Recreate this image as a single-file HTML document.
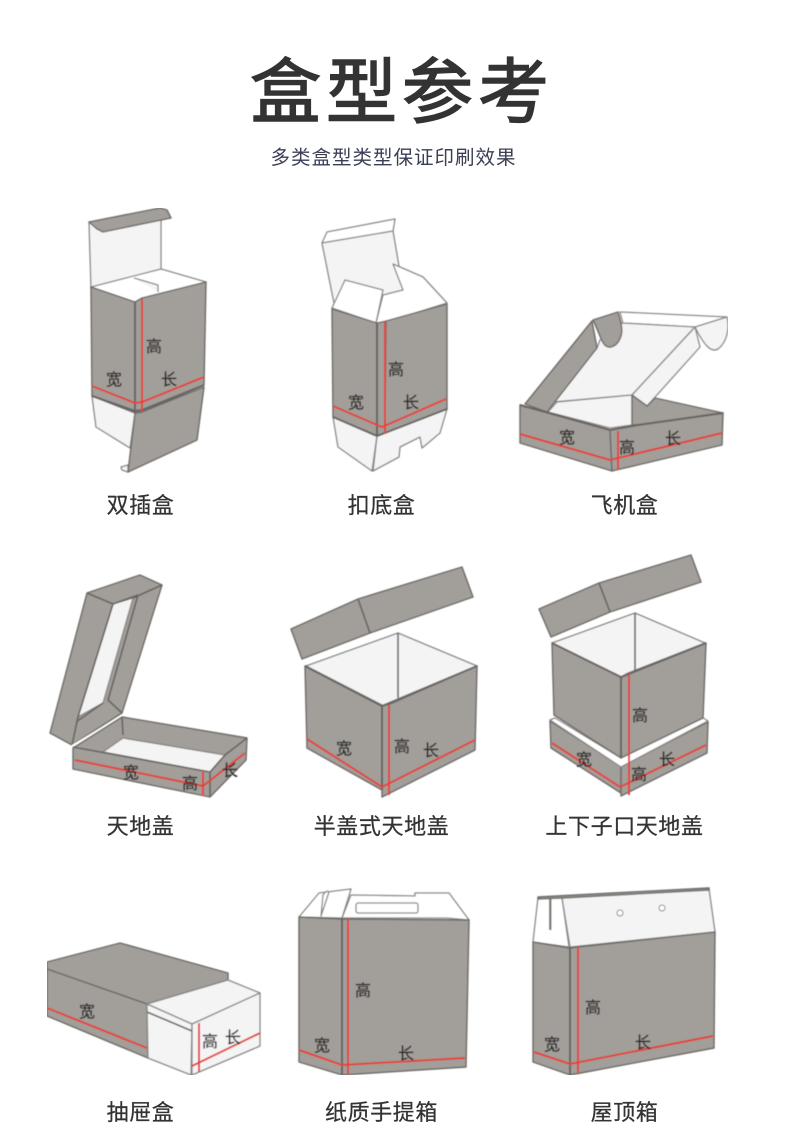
<!DOCTYPE html>
<html lang="zh">
<head>
<meta charset="utf-8">
<title>盒型参考</title>
<style>
html,body{margin:0;padding:0;background:#fff}
svg{display:block;width:790px;height:1145px}
text{font-family:"Liberation Sans","Noto Sans CJK SC",sans-serif;text-anchor:middle}
.g{fill:#a29e99;stroke:#6d6b68;stroke-width:1.4;stroke-linejoin:round}
.w{fill:#f4f4f4;stroke:#858585;stroke-width:1.3;stroke-linejoin:round}
.p{fill:#fff;stroke:#858585;stroke-width:1.3;stroke-linejoin:round}
.l{fill:none;stroke:#666462;stroke-width:1.6}
.d{fill:none;stroke:#666462;stroke-width:2}
.r{fill:none;stroke:#e5403a;stroke-width:2}
.t{font-size:16px;fill:#262626;stroke:#262626;stroke-width:.25}
.c{font-size:22px;letter-spacing:.6px;fill:#333;stroke:#333;stroke-width:.25}
</style>
</head>
<body>
<svg xmlns="http://www.w3.org/2000/svg" width="790" height="1145" viewBox="0 0 790 1145">
<defs><filter id="b" x="0" y="0" width="100%" height="100%"><feGaussianBlur stdDeviation="0.4"/></filter></defs>
<rect width="790" height="1145" fill="#fff"/>
<text x="402" y="117" font-size="71" letter-spacing="5" fill="#333" stroke="#333" stroke-width="1.5">盒型参考</text>
<text x="393.5" y="164" font-size="19.5" letter-spacing="1" fill="#3b3f55">多类盒型类型保证印刷效果</text>
<g filter="url(#b)">

<!-- 双插盒 -->
<polygon class="w" points="89,222 161,217 161,269 91,288"/>
<polygon class="g" points="89,222 160,208 167,210 171,218 103,232 97,229"/>
<polygon class="p" points="91,287 161,269 206,282 142,298 135,302"/>
<path class="w" d="M134,278 L158,285 L158,292"/>
<polygon class="w" points="92,396 96,427 130,448 135,413"/>
<polygon class="g" points="91,287 135,302 135,413 92,396"/>
<polygon class="g" points="135,302 142,298 142,412 135,413"/>
<polygon class="g" points="142,298 206,282 204,385 142,412"/>
<polygon class="w" points="128,465 121,467 122,470 128,472"/>
<polygon class="g" points="135,413 142,412 204,387 197,440 128,472"/>
<path class="d" d="M92,396 L135,411 L142,410 L204,385 M135,302 L135,412"/>
<path class="r" d="M92,386 L135,403 L142,402 L204,377"/>
<path class="r" d="M142,299 L142,411"/>
<text class="t" x="154" y="352">高</text>
<text class="t" x="114" y="385">宽</text>
<text class="t" x="169" y="385">长</text>

<!-- 扣底盒 -->
<polygon class="p" points="322,243 327,232 395,219 393,231"/>
<polygon class="w" points="322,243 393,231 403,290 383,295 345,280 335,308"/>
<polygon class="p" points="393,264 423,277 447,303 386,322 376,323 383,295 403,290"/>
<polygon class="p" points="345,280 383,290 376,323 332,308"/>
<polygon class="w" points="333,417 338,447 372,471 377,436"/>
<polygon class="w" points="377,436 385,433 447,409 440,433 422,448 420,437 400,447 399,457 373,471"/>
<polygon class="g" points="332,309 377,323 377,436 333,417"/>
<polygon class="g" points="377,323 386,321 385,433 377,436"/>
<polygon class="g" points="386,321 447,304 447,409 385,433"/>
<path class="d" d="M377,323 L377,436 M333,417 L377,436 L385,433 L447,409"/>
<path class="r" d="M333,406 L382,427 L446,399"/>
<path class="r" d="M385,322 L385,433"/>
<text class="t" x="396" y="375">高</text>
<text class="t" x="356" y="408">宽</text>
<text class="t" x="411" y="408">长</text>

<!-- 飞机盒 -->
<polygon class="p" points="620,312 727,317 695,327 623,323"/>
<polygon class="w" points="622,323 695,327 632,395 553,402 597,348 600,340"/>
<polygon class="g" points="592,321 597,348 547,412 525,404"/>
<path class="g" d="M593,320 L618,312 C621,322 623,330 621,336 C618,346 610,349 606,346 C602,344 599,332 593,320Z"/>
<polygon class="w" points="695,327 700,347 647,406 632,395"/>
<path class="w" d="M695,327 L727,317 C730,330 726,343 718,349 C711,353 704,345 695,327Z"/>
<polygon class="w" points="548,412 557,402 632,395 632,425 610,428"/>
<polygon class="g" points="632,395 647,406 655,398 723,413 638,425 632,425"/>
<polygon class="g" points="520,405 547,412 610,430 612,471 520,443"/>
<polygon class="g" points="610,430 638,425 723,413 722,445 612,471"/>
<path class="d" d="M520,405 L610,430 L638,425 L723,413"/>
<path class="r" d="M520,434 L610,460 L722,433"/>
<path class="r" d="M618,431 L618,470"/>
<text class="t" x="567" y="443">宽</text>
<text class="t" x="627" y="453">高</text>
<text class="t" x="673" y="444">长</text>

<!-- 天地盖 -->
<polygon class="g" points="87,593 140,575 162,585 122,713 72,745 50,733"/>
<polygon class="w" points="113,604 133,598 103,703 78,717"/>
<path class="l" d="M87,593 L113,604 L78,717 L72,745 M133,598 L162,585 M138,595 L108,700 L122,713 M113,604 L138,595 M103,703 L76,722"/>
<path d="M72,746 L122,716" stroke="#fff" stroke-width="2" fill="none"/>
<polygon class="g" points="73,748 122,717 247,738 246,760 210,797 73,769"/>
<polygon class="w" points="103,752 123,738 225,755 210,772"/>
<path class="l" d="M73,747 L210,772 L210,797 M122,717 L123,735 M210,772 L225,755 L247,738"/>
<path class="r" d="M75,760 L203,786 L245,753"/>
<path class="r" d="M203,771 L203,796"/>
<text class="t" x="131" y="778">宽</text>
<text class="t" x="190" y="789">高</text>
<text class="t" x="230" y="776">长</text>

<!-- 半盖式天地盖 -->
<polygon class="g" points="291,629 358,599 462,567 473,597 370,633 302,659"/>
<path class="l" d="M358,599 L370,633"/>
<polygon class="w" points="306,666 398,633 477,666 388,705 382,705"/>
<path class="l" d="M398,633 L398,698" stroke="#999"/>
<polygon class="g" points="305,666 382,706 382,790 307,748"/>
<polygon class="g" points="382,706 390,704 477,666 475,750 382,797 382,790"/>
<path class="d" d="M382,706 L382,790 M305,666 L382,706 L477,666"/>
<path class="r" d="M307,739 L382,787 L475,740"/>
<path class="r" d="M389,705 L389,795"/>
<text class="t" x="344" y="754">宽</text>
<text class="t" x="402" y="752">高</text>
<text class="t" x="431" y="756">长</text>

<!-- 上下子口天地盖 -->
<polygon class="g" points="539,609 599,583 691,555 701,582 610,612 551,637"/>
<path class="l" d="M599,583 L610,612"/>
<polygon class="g" points="550,721 621,766 621,793 551,748"/>
<polygon class="g" points="621,766 708,722 707,753 621,796 621,793"/>
<polygon class="p" points="550,720 555,718 621,758 703,718 708,721 621,767"/>
<polygon class="w" points="552,643 635,613 705,643 628,673 621,677"/>
<path class="l" d="M635,613 L635,672" stroke="#999"/>
<polygon class="g" points="552,643 621,677 621,758 554,715"/>
<polygon class="g" points="621,677 628,674 706,643 703,718 621,758"/>
<path class="d" d="M552,643 L621,677 L706,643 M621,677 L621,758"/>
<path class="r" d="M552,743 L620,787 L706,745"/>
<path class="r" d="M629,674 L629,795"/>
<text class="t" x="640" y="721">高</text>
<text class="t" x="584" y="765">宽</text>
<text class="t" x="639" y="780">高</text>
<text class="t" x="667" y="765">长</text>

<!-- 抽屉盒 -->
<polygon class="g" points="47,962 120,943 228,973 228,980 147,1004 47,969"/>
<polygon class="g" points="47,969 147,1004 148,1058 47,1016"/>
<polygon class="w" points="147,1004 228,980 260,993 192,1024"/>
<polygon class="w" points="147,1004 192,1024 191,1075 148,1058"/>
<polygon class="w" points="192,1024 260,993 260,1046 192,1075"/>
<path class="l" d="M147,1012 L192,1031" stroke="#999"/>
<path class="r" d="M47,1008 L147,1048"/>
<path class="r" d="M192,1066 L260,1033"/>
<path class="r" d="M199,1023 L199,1072"/>
<text class="t" x="87" y="1017">宽</text>
<text class="t" x="210" y="1047">高</text>
<text class="t" x="233" y="1043">长</text>

<!-- 纸质手提箱 -->
<polygon class="p" points="299,917 319,893 351,889 342,918"/>
<polygon class="p" points="342,918 351,895 415,896 415,893 449,893 469,920 447,918"/>
<path class="p" d="M321,916 L323,895 Q326,890 329,892 Z"/>
<rect class="p" x="356" y="903" width="62" height="10" rx="2"/>
<polygon class="g" points="299,917 342,919 342,1075 299,1062"/>
<polygon class="g" points="342,919 348,919 469,920 466,1067 342,1075"/>
<path class="d" d="M342,919 L342,1075"/>
<path class="r" d="M299,1050 L342,1065 L465,1058"/>
<path class="r" d="M348,919 L348,1074"/>
<text class="t" x="363" y="996">高</text>
<text class="t" x="322" y="1051">宽</text>
<text class="t" x="406" y="1059">长</text>

<!-- 屋顶箱 -->
<polygon class="p" points="533,942 538,898 562,898 569,947"/>
<polygon class="w" points="562,898 709,889 715,932 570,947"/>
<polygon class="g" points="538,897 709,888 709,890 562,898 538,899"/>
<rect x="549" y="899" width="2.5" height="31" fill="#7d7b78"/>
<circle cx="620" cy="913" r="3" fill="#fff" stroke="#8a8a8a"/>
<circle cx="662" cy="908" r="3" fill="#fff" stroke="#8a8a8a"/>
<polygon class="g" points="533,942 570,948 570,1075 533,1062"/>
<polygon class="g" points="570,948 578,947 715,932 714,1048 570,1075"/>
<path class="d" d="M570,948 L570,1075"/>
<path class="r" d="M534,1052 L570,1064 L713,1036"/>
<path class="r" d="M578,947 L578,1073"/>
<text class="t" x="593" y="1013">高</text>
<text class="t" x="552" y="1050">宽</text>
<text class="t" x="643" y="1048">长</text>
</g>

<text class="c" x="140.5" y="513">双插盒</text>
<text class="c" x="381.5" y="513">扣底盒</text>
<text class="c" x="624.5" y="513">飞机盒</text>
<text class="c" x="140.5" y="834">天地盖</text>
<text class="c" x="381.5" y="834">半盖式天地盖</text>
<text class="c" x="624.5" y="834">上下子口天地盖</text>
<text class="c" x="140.5" y="1120">抽屉盒</text>
<text class="c" x="381.5" y="1120">纸质手提箱</text>
<text class="c" x="624.5" y="1120">屋顶箱</text>
</svg>
</body>
</html>
